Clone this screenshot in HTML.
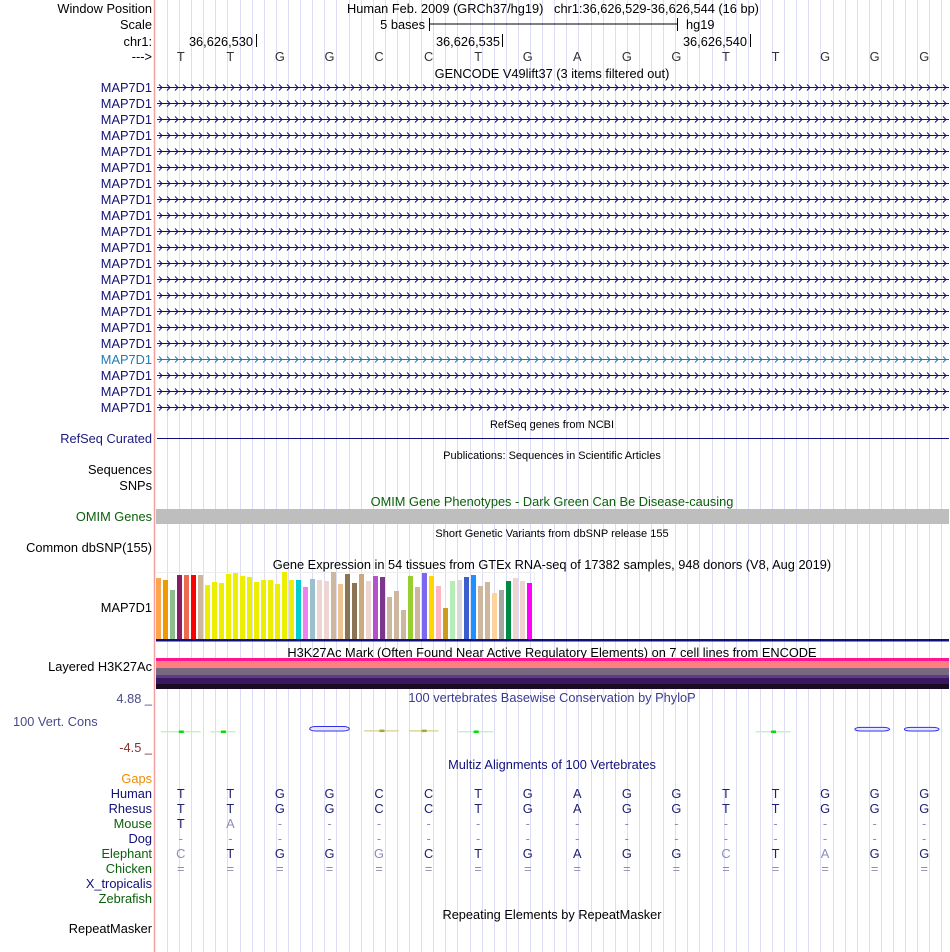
<!DOCTYPE html>
<html><head><meta charset="utf-8">
<style>
html,body{margin:0;padding:0;background:#fff;}
svg{display:block;font-family:"Liberation Sans",Arial,sans-serif;}
</style></head>
<body>
<svg id="root" width="950" height="952" viewBox="0 0 950 952" xmlns="http://www.w3.org/2000/svg">
<g id="guides"></g>
<line x1="154.5" y1="0" x2="154.5" y2="952" stroke="#f4a0a0" stroke-width="1.5"/>

<g font-size="12.8" fill="#000">
<text x="152" y="13" text-anchor="end">Window Position</text>
<text x="553" y="13" text-anchor="middle" xml:space="preserve">Human Feb. 2009 (GRCh37/hg19)   chr1:36,626,529-36,626,544 (16 bp)</text>
<text x="152" y="29" text-anchor="end">Scale</text>
<text x="425" y="29" text-anchor="end">5 bases</text>
<g stroke="#000"><line x1="429.5" y1="24" x2="677.5" y2="24"/><line x1="429.5" y1="18" x2="429.5" y2="31"/><line x1="677.5" y1="18" x2="677.5" y2="31"/></g>
<text x="686" y="29">hg19</text>
<text x="152" y="46" text-anchor="end">chr1:</text>
<text x="253" y="46" text-anchor="end">36,626,530</text><line x1="256.5" y1="34" x2="256.5" y2="47" stroke="#000"/>
<text x="500" y="46" text-anchor="end">36,626,535</text><line x1="502.5" y1="34" x2="502.5" y2="47" stroke="#000"/>
<text x="747" y="46" text-anchor="end">36,626,540</text><line x1="750.5" y1="34" x2="750.5" y2="47" stroke="#000"/>
<text x="152" y="61" text-anchor="end">---&gt;</text>
<g id="refseq-bases" fill="#333"></g>
<text x="552" y="78" text-anchor="middle">GENCODE V49lift37 (3 items filtered out)</text>
</g>
<g id="genes"></g>

<text x="552" y="428" text-anchor="middle" font-size="11">RefSeq genes from NCBI</text>
<text x="152" y="443" text-anchor="end" font-size="12.8" fill="#1a1a80">RefSeq Curated</text>
<line x1="157" y1="438.5" x2="949" y2="438.5" stroke="#10107a"/>
<text x="552" y="459" text-anchor="middle" font-size="11">Publications: Sequences in Scientific Articles</text>
<text x="152" y="474" text-anchor="end" font-size="12.8">Sequences</text>
<text x="152" y="490" text-anchor="end" font-size="12.8">SNPs</text>
<text x="552" y="506" text-anchor="middle" font-size="12.8" fill="#0a600a">OMIM Gene Phenotypes - Dark Green Can Be Disease-causing</text>
<rect x="156" y="509" width="793" height="15" fill="#bebebe"/>
<text x="152" y="521" text-anchor="end" font-size="12.8" fill="#0a600a">OMIM Genes</text>
<text x="552" y="537" text-anchor="middle" font-size="11">Short Genetic Variants from dbSNP release 155</text>
<text x="152" y="552" text-anchor="end" font-size="12.8">Common dbSNP(155)</text>

<text x="552" y="569" text-anchor="middle" font-size="12.8">Gene Expression in 54 tissues from GTEx RNA-seq of 17382 samples, 948 donors (V8, Aug 2019)</text>
<rect x="155.5" y="572.5" width="379" height="67" fill="none" stroke="#eee"/>
<g id="gtex"></g>
<rect x="156" y="639" width="793" height="2.5" fill="#10107a"/>
<text x="152" y="612" text-anchor="end" font-size="12.8" fill="#000">MAP7D1</text>

<text x="552" y="657" text-anchor="middle" font-size="12.8">H3K27Ac Mark (Often Found Near Active Regulatory Elements) on 7 cell lines from ENCODE</text>
<text x="152" y="671" text-anchor="end" font-size="12.8">Layered H3K27Ac</text>
<g>
<rect x="156" y="658" width="793" height="3" fill="#ff1493"/>
<rect x="156" y="661" width="793" height="7" fill="#ff8080"/>
<rect x="156" y="668" width="793" height="7" fill="#7a6880"/>
<rect x="156" y="675" width="793" height="3" fill="#5a3d8a"/>
<rect x="156" y="678" width="793" height="6" fill="#3a1860"/>
<rect x="156" y="684" width="793" height="5" fill="#1a0a25"/>
</g>

<text x="152" y="703" text-anchor="end" font-size="12.8" fill="#4a4a8a">4.88 _</text>
<text x="13" y="726" font-size="12.8" fill="#4a4a8a">100 Vert. Cons</text>
<text x="152" y="752" text-anchor="end" font-size="12.8" fill="#8a3030">-4.5 _</text>
<text x="552" y="702" text-anchor="middle" font-size="12.8" fill="#3a3a90">100 vertebrates Basewise Conservation by PhyloP</text>
<g id="cons"></g>

<text x="552" y="769" text-anchor="middle" font-size="12.8" fill="#10107a">Multiz Alignments of 100 Vertebrates</text>
<text x="152" y="783" text-anchor="end" font-size="12.8" fill="#f08c00">Gaps</text>
<g id="multiz" font-size="12.8"></g>

<text x="552" y="919" text-anchor="middle" font-size="12.8">Repeating Elements by RepeatMasker</text>
<text x="152" y="933" text-anchor="end" font-size="12.8">RepeatMasker</text>
</svg>
<script>
const NS='http://www.w3.org/2000/svg';
const refBases=['T','T','G','G','C','C','T','G','A','G','G','T','T','G','G','G'];
const species=['Human','Rhesus','Mouse','Dog','Elephant','Chicken','X_tropicalis','Zebrafish'];
const speciesColor=['#10107a','#10107a','#0a600a','#10107a','#0a600a','#0a600a','#10107a','#0a600a'];
const alignRows=[
 'TTGGCCTGAGGTTGGG',
 'TTGGCCTGAGGTTGGG',
 'TA--------------',
 '----------------',
 'CTGGGCTGAGGCTAGG',
 '================',
 '',
 ''];
const alignLight=[
 '','','.x','','x...x......x.x..','','',''];
const gtexValues=[61,59,49,64,64,64,64,54,57,56,65,66,63,62,57,59,59,55,67,59,59,52,60,59,58,67,55,65,56,65,58,63,62,42,48,29,63,52,66,63,53,31,58,59,62,64,53,57,46,49,58,61,58,56];
const gtexColors=['#ffa54f','#ee9a00','#8fbc8f','#8b1c62','#ee6a50','#ff0000','#cdb79e','#eeee00','#eeee00','#eeee00','#eeee00','#eeee00','#eeee00','#eeee00','#eeee00','#eeee00','#eeee00','#eeee00','#eeee00','#eeee00','#00cdcd','#ee82ee','#9ac0cd','#eed5d2','#eed5d2','#cdb79e','#eec591','#8b7355','#8b7355','#cdaa7d','#eed5d2','#b452cd','#7a378b','#cdb79e','#cdb79e','#cdb79e','#9acd32','#cdb79e','#7b68ee','#ffd700','#ffb6c1','#cd9b1d','#b4eeb4','#d9d9d9','#3a5fcd','#1e90ff','#cdb79e','#cdb79e','#ffd39b','#a6a6a6','#008b45','#eed5d2','#eed5d2','#ff00ff'];
const consSegments=[[0,0.9,0,'g'],[1,1.6,0,'g'],[3,3.9,1,'b'],[4.1,4.9,0.3,'o'],[5,5.7,0.3,'o'],[6,6.8,0,'g'],[12,12.8,0,'g'],[14,14.8,0.7,'b'],[15,15.8,0.7,'b']];

const root=document.getElementById('root');
const x0=156, bw=49.56;
function xBase(i){return x0+bw*(i+0.5);}
function mk(tag,attrs,parent){const e=document.createElementNS(NS,tag);for(const k in attrs)e.setAttribute(k,attrs[k]);parent.appendChild(e);return e;}

const g=document.getElementById('guides');
for(let x=167;x<949;x+=12.1){
 const l=mk('line',{x1:Math.round(x)+0.5,y1:0,x2:Math.round(x)+0.5,y2:952,stroke:'#dcdcf4','stroke-width':1},g);
 
 
}
const rb=document.getElementById('refseq-bases');
refBases.forEach((b,i)=>{const t=mk('text',{x:xBase(i),y:61,'text-anchor':'middle','font-size':12.8},rb);t.textContent=b;
 
 });

const gg=document.getElementById('genes');
for(let r=0;r<21;r++){
 const y=87+16*r; const hl=(r===17); const col=hl?'#1f7ab4':'#10107a';
 const t=mk('text',{x:152,y:y+5,'text-anchor':'end','font-size':12.8,fill:col},gg);
 t.textContent='MAP7D1';
 
 
 let d='M157 '+(y+0.5)+' H949 ';
 for(let x=159;x<946;x+=8){d+='M'+x+' '+(y-2.5)+' L'+(x+3)+' '+(y+0.5)+' L'+x+' '+(y+3.5)+' ';}
 const p=mk('path',{d:d,fill:'none',stroke:col,'stroke-width':1},gg);
 
 
}
const gt=document.getElementById('gtex');
const yBase=639, pxPer=1.0;
gtexValues.forEach((v,i)=>{const h=v*pxPer;
 const r=mk('rect',{x:156+7*i,y:yBase-h,width:5,height:h,fill:gtexColors[i]},gt);
 
 });

const cg=document.getElementById('cons');
const cy=731;
const cmap={g:['#c8f0c8','#00e000'],b:['#b0b0ff','#0000e0'],o:['#d8d8a0','#a8a830']};
consSegments.forEach(s=>{
 const xa=x0+bw*s[0]+5, xb=x0+bw*s[1]; const c=cmap[s[3]]; const h=s[2]*3;
 if(s[3]==='b'){
  const e=mk('rect',{x:xa,y:cy-h-1.5,width:xb-xa,height:h+1.5,rx:6,fill:'#e8e8ff',stroke:'#3030f0','stroke-width':1},cg);
  
  
 } else {
  const e=mk('rect',{x:xa,y:cy-h,width:xb-xa,height:1.5,fill:c[0]},cg);
  
  
  const d=mk('rect',{x:(xa+xb)/2-2,y:cy-h-0.5,width:5,height:2.5,fill:c[1]},cg);
  
  
 }
});
const mg=document.getElementById('multiz');
species.forEach((sp,r)=>{
 const y=798+15*r;
 const t=mk('text',{x:152,y:y,'text-anchor':'end',fill:speciesColor[r]},mg);
 t.textContent=sp;
 
 
 const row=alignRows[r];
 for(let i=0;i<row.length;i++){
  const ch=row[i]; const light=(alignLight[r][i]==='x')||ch==='-'||ch==='=';
  const b=mk('text',{x:xBase(i),y:y,'text-anchor':'middle',fill:light?'#8c8cb8':'#202070'},mg);
  b.textContent=ch;
  
  
 }
});
</script>
</body></html>
